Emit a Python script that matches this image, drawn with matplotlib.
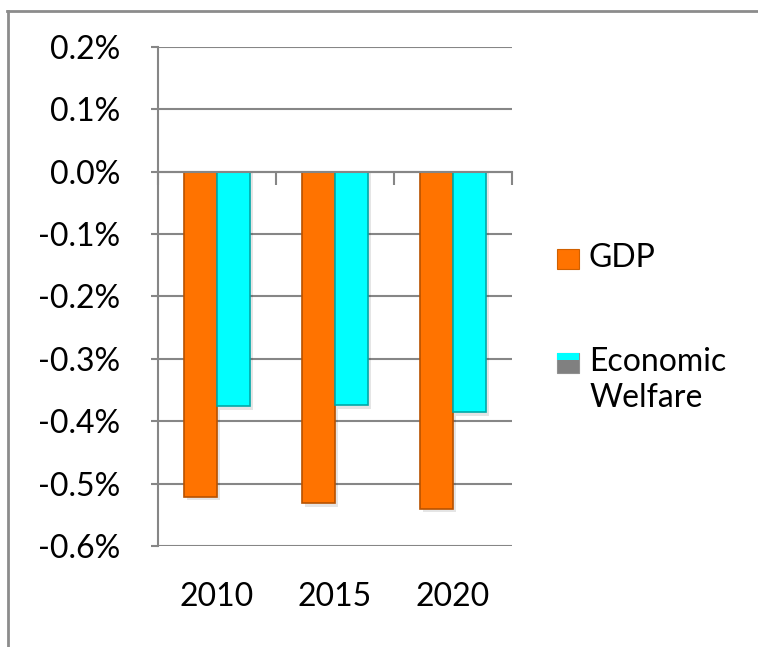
import numpy as np
import matplotlib
matplotlib.use("Agg")
import matplotlib.pyplot as plt
from matplotlib.patches import Rectangle
from matplotlib.lines import Line2D
from matplotlib.ticker import FuncFormatter, FixedLocator

# data (in %)
years = ["2010", "2015", "2020"]
gdp = [-0.521, -0.531, -0.540]
welfare = [-0.376, -0.374, -0.385]
yticks = [-0.6, -0.5, -0.4, -0.3, -0.2, -0.1, 0.0, 0.1, 0.2]

plt.rcParams['font.family'] = ['Lato', 'DejaVu Sans']
W, H = 758, 647
fs = 23
fig = plt.figure(figsize=(W / 100, H / 100), dpi=100)
ax = fig.add_axes([158 / W, 1 - 546 / H, (512 - 158) / W, (546 - 46.7) / H])

grey = '#868686'
x = np.arange(len(years))
bw = 0.28

# soft shadow behind the bars
ax.bar(x - bw / 2 + 0.025, np.array(gdp) - 0.006, bw, color='#000000', alpha=0.10, zorder=2)
ax.bar(x + bw / 2 + 0.025, np.array(welfare) - 0.006, bw, color='#000000', alpha=0.10, zorder=2)

ax.bar(x - bw / 2, gdp, bw, color='#FF7300', edgecolor='#B85200', linewidth=1.2, zorder=3, label='GDP')
ax.bar(x + bw / 2, welfare, bw, color='#00FFFF', edgecolor='#00A8A8', linewidth=1.2, zorder=3,
       label='Economic Welfare')

ax.set_ylim(-0.6, 0.2)
ax.set_xlim(-0.5, len(years) - 0.5)
ax.set_yticks(yticks)
ax.yaxis.set_major_formatter(FuncFormatter(lambda v, p: "%.1f%%" % v))
for v in yticks:
    ax.axhline(v, color=grey, lw=1.5, zorder=1)

for s in ['top', 'right']:
    ax.spines[s].set_visible(False)
ax.spines['left'].set_color(grey)
ax.spines['left'].set_linewidth(1.5)
ax.spines['bottom'].set_position(('data', 0))
ax.spines['bottom'].set_color(grey)
ax.spines['bottom'].set_linewidth(1.5)
ax.spines['bottom'].set_zorder(4)

ax.tick_params(axis='y', length=5, width=1.5, color=grey, labelsize=fs, pad=22)
ax.set_xticks([])
ax.xaxis.set_minor_locator(FixedLocator(np.arange(len(years) + 1) - 0.5))
ax.tick_params(axis='x', which='minor', direction='out', length=9, width=1.5, color=grey)

sec = ax.secondary_xaxis('bottom')
sec.set_xticks(x, labels=years)
sec.tick_params(length=0, labelsize=fs, pad=26)
sec.spines['bottom'].set_visible(False)

# legend drawn by hand
def px(xp, yp):
    return xp / W, 1 - yp / H

lx = 557
fig.patches.append(Rectangle(px(lx, 269), 22 / W, 20 / H, transform=fig.transFigure,
                             fc='#FF7300', ec='#D06000', lw=0.8))
fig.text(*px(589, 258), "GDP", fontsize=fs, va='center', ha='left')
fig.patches.append(Rectangle(px(lx, 373), 22 / W, 20 / H, transform=fig.transFigure,
                             fc='#808080', ec='#909090', lw=0.8))
fig.patches.append(Rectangle(px(lx, 360), 22 / W, 7 / H, transform=fig.transFigure,
                             fc='#00FFFF', ec='none'))
fig.text(*px(589, 362), "Economic", fontsize=fs, va='center', ha='left')
fig.text(*px(589, 398), "Welfare", fontsize=fs, va='center', ha='left')

# outer frame (top and left edges)
fig.add_artist(Line2D([7 / W, 1], [1 - 11 / H, 1 - 11 / H], transform=fig.transFigure, color='#8c8c8c', lw=2))
fig.add_artist(Line2D([8 / W, 8 / W], [0, 1 - 11 / H], transform=fig.transFigure, color='#8c8c8c', lw=2))

fig.savefig("out.png", dpi=100)
